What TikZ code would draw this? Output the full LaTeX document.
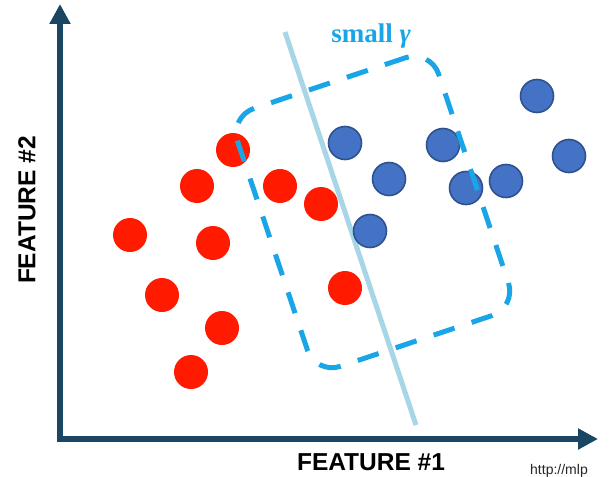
\documentclass[tikz,border=0pt]{standalone}
\usepackage{fontspec}
\setmainfont{Liberation Sans}
\newfontfamily\serifb{Liberation Serif}
\usetikzlibrary{arrows.meta}
\definecolor{axiscol}{HTML}{1A4563}
\definecolor{redpt}{HTML}{FF1A00}
\definecolor{bluept}{HTML}{4472C4}
\definecolor{blueedge}{HTML}{2F528F}
\definecolor{sepcol}{HTML}{A8D5E8}
\definecolor{dashcol}{HTML}{1AA5E6}
\tikzset{
  redp/.style={circle, fill=redpt, minimum size=34pt, inner sep=0pt},
  bluep/.style={circle, fill=bluept, draw=blueedge, line width=1.6pt, minimum size=33pt, inner sep=0pt},
  axisline/.style={draw=axiscol, line width=6pt, -{Triangle[length=20pt,width=20pt]}},
  featlabel/.style={font=\fontsize{24.5}{28}\selectfont\bfseries, text=black, inner sep=0pt},
  gammabox/.style={draw=dashcol, line width=5pt, dash pattern=on 22pt off 18pt, rounded corners=26pt,
    minimum width=212pt, minimum height=272pt, rotate=18.5, inner sep=0pt}
}
\begin{document}
\begin{tikzpicture}[x=1pt,y=-1pt]
\useasboundingbox (0,0) rectangle (609,476);
\clip (0,0) rectangle (609,476);
\fill[white] (0,0) rectangle (609,476);
% axes
\coordinate (O) at (60,439);
\coordinate (ytip) at (60,4);
\coordinate (xtip) at (598,439);
\draw[axisline] ([yshift=3pt]O) -- (ytip);
\draw[axisline] ([xshift=-3pt]O) -- (xtip);
% separator
\coordinate (s1) at (285,32);
\coordinate (s2) at (416,425);
\draw[sepcol, line width=5pt] (s1) -- (s2);
% red points
\node[redp] (r1) at (233,150) {};
\node[redp] (r2) at (197,186) {};
\node[redp] (r3) at (280,186) {};
\node[redp] (r4) at (321,204) {};
\node[redp] (r5) at (130,235) {};
\node[redp] (r6) at (213,243) {};
\node[redp] (r7) at (162,295) {};
\node[redp] (r8) at (345,288) {};
\node[redp] (r9) at (222,328) {};
\node[redp] (r10) at (191,372) {};
% blue points
\node[bluep] (b1) at (345,143) {};
\node[bluep] (b2) at (389,179) {};
\node[bluep] (b3) at (443,145) {};
\node[bluep] (b4) at (466,188) {};
\node[bluep] (b5) at (506,181) {};
\node[bluep] (b6) at (370,231) {};
\node[bluep] (b7) at (537,96) {};
\node[bluep] (b8) at (569,156) {};
% dashed region
\node[gammabox] (g) at (373,212) {};
\node[text=dashcol, font=\serifb\fontsize{27}{30}\selectfont\bfseries, inner sep=0pt] (gl) at (371,36) {small \textit{γ}};
% labels
\node[featlabel, rotate=90] (f2) at (27,210) {FEATURE \#2};
\node[featlabel] (f1) at (371,462) {FEATURE \#1};
\node[font=\fontsize{14}{16}\selectfont, anchor=north west, inner sep=0pt, text=black!85] (url) at (530,464) {http://mlp};
\end{tikzpicture}
\end{document}
